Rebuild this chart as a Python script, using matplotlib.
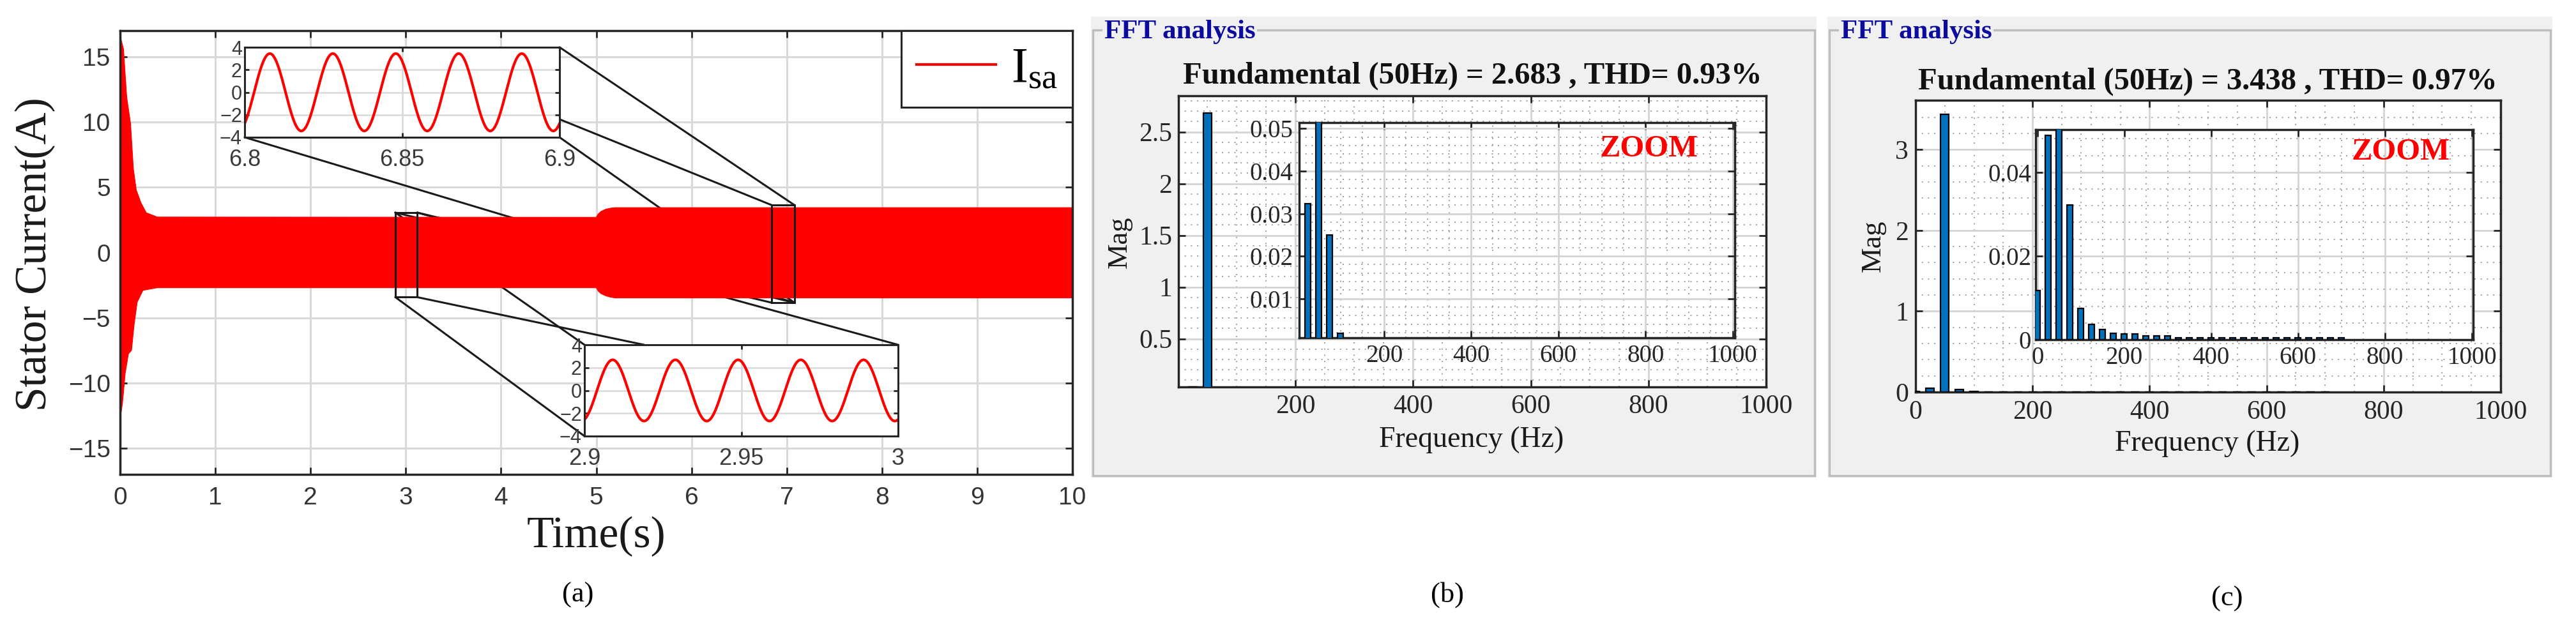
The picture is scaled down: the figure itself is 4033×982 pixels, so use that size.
import numpy as np
import matplotlib
matplotlib.use("Agg")
import matplotlib.pyplot as plt
from matplotlib.patches import Rectangle, ConnectionPatch
from matplotlib.lines import Line2D
from matplotlib.ticker import AutoMinorLocator, FixedLocator

# ------------------------------------------------------------------ data
# panel (a): envelope of the stator current
T_UP = [0.0, 0.004, 0.036, 0.07, 0.11, 0.14, 0.17, 0.22, 0.275, 0.39, 5.0, 5.02, 5.05, 5.1, 5.15, 5.2, 10.0]
I_UP = [17.0, 16.5, 15.6, 11.9, 9.9, 6.4, 4.8, 3.8, 3.05, 2.72, 2.7, 2.95, 3.15, 3.32, 3.4, 3.44, 3.44]
T_LO = [0.0, 0.002, 0.026, 0.054, 0.088, 0.12, 0.148, 0.18, 0.24, 0.39, 5.0, 5.02, 5.05, 5.1, 5.15, 5.2, 10.0]
I_LO = [0.0, -12.7, -11.5, -9.25, -7.76, -7.5, -5.5, -3.8, -2.9, -2.7, -2.7, -2.95, -3.15, -3.32, -3.42, -3.48, -3.48]
F_GRID = 50.0
ZOOM1_T = [6.8, 6.9]
ZOOM1_PEAK = 6.808
ZOOM2_T = [2.9, 3.0]
ZOOM2_PEAK = 2.909
RECT_A = [2.89, 3.12, -3.42, 3.06]   # t0, t1, y0, y1
RECT_B = [6.84, 7.08, -3.84, 3.64]
A_XTICKS = list(range(0, 11))
A_YTICKS = [-15, -10, -5, 0, 5, 10, 15]

# panel (b) / (c): FFT spectra
FUND_B, THD_B = 2.683, 0.93
FUND_C, THD_C = 3.438, 0.97
B_FREQ = [0, 25, 50, 75, 100]
B_MAG = [0.0, 0.0324, FUND_B, 0.025, 0.0018]
C_FREQ = [0, 25, 50, 75, 100, 125, 150, 175, 200, 225, 250, 275, 300, 325, 350, 375,
          400, 425, 450, 475, 500, 525, 550, 575, 600, 625, 650, 675, 700]
C_MAG = [0.0117, 0.0489, FUND_C, 0.0322, 0.0075, 0.0037, 0.0024, 0.0016, 0.0013, 0.0013,
         0.0009, 0.0009, 0.0009, 0.0005, 0.0005, 0.0005, 0.0005, 0.0005, 0.0005, 0.0005,
         0.0005, 0.0005, 0.0005, 0.0005, 0.0005, 0.0005, 0.0005, 0.0005, 0.0005]
FREQ_TICKS = [200, 400, 600, 800, 1000]
FREQ_TICKS0 = [0, 200, 400, 600, 800, 1000]
B_YTICKS = [0.5, 1, 1.5, 2, 2.5]
B_YTL = ["0.5", "1", "1.5", "2", "2.5"]
BI_YTICKS = [0.01, 0.02, 0.03, 0.04, 0.05]
BI_YTL = ["0.01", "0.02", "0.03", "0.04", "0.05"]
C_YTICKS = [0, 1, 2, 3]
C_YTL = ["0", "1", "2", "3"]
CI_YTICKS = [0, 0.02, 0.04]
CI_YTL = ["0", "0.02", "0.04"]

# ------------------------------------------------------------------ style
W, H, DPI = 4033, 982, 100
plt.rcParams["font.family"] = ["Liberation Sans", "DejaVu Sans"]
plt.rcParams["mathtext.fontset"] = "custom"
plt.rcParams["mathtext.rm"] = "Liberation Serif"
plt.rcParams["mathtext.it"] = "Liberation Serif:italic"
SERIF = "Liberation Serif"
DARK = "#262626"
BLUE_BAR = "#0072BD"

fig = plt.figure(figsize=(W / DPI, H / DPI), dpi=DPI)
fig.patch.set_facecolor("white")


def box(l, t, r, b):
    return [l / W, 1 - b / H, (r - l) / W, (b - t) / H]


def fx(px):
    return px / W


def fy(py):
    return 1 - py / H


def style_axes(ax, lw=2.5, tlen=8, twid=2):
    for s in ax.spines.values():
        s.set_color(DARK)
        s.set_linewidth(lw)
    ax.tick_params(which="major", direction="in", length=tlen, width=twid,
                   top=True, right=True, colors=DARK)
    ax.tick_params(which="minor", length=0)


# ================================================================ panel (a)
axa = fig.add_axes(box(188, 48, 1679, 743))
axa.set_axisbelow(True)
axa.fill(np.concatenate([T_UP, T_LO[::-1]]), np.concatenate([I_UP, I_LO[::-1]]),
         color="#FF0000", lw=0.8, ec="#FF0000", zorder=2)
axa.set_xlim(0, 10)
axa.set_ylim(-17, 17)
axa.set_xticks(A_XTICKS)
axa.set_yticks(A_YTICKS)
axa.grid(True, color="#D9D9D9", lw=2.2)
style_axes(axa)
axa.tick_params(axis="both", labelsize=28, labelcolor="#333333")
axa.tick_params(axis="x", pad=14)
axa.tick_params(axis="y", pad=11)

for r in (RECT_A, RECT_B):
    axa.add_patch(Rectangle((r[0], r[2]), r[1] - r[0], r[3] - r[2], fill=False,
                            ec="#1A1A1A", lw=2.2, zorder=4))

leg = axa.legend([Line2D([], [], color="#FF0000", lw=3)], [r"$\mathrm{I}_{\mathrm{sa}}$"],
                 loc="upper right", bbox_to_anchor=(1, 1), borderaxespad=0,
                 fancybox=False, edgecolor=DARK, framealpha=1, fontsize=56,
                 handlelength=1.6, handletextpad=0.3, borderpad=0.3)
leg.get_frame().set_linewidth(2.2)

fig.text(fx(55), fy(398), "Stator Current(A)", family=SERIF, fontsize=50,
         rotation=90, ha="center", va="center", color="#1A1A1A")
fig.text(fx(933), fy(840), "Time(s)", family=SERIF, fontsize=50,
         ha="center", va="center", color="#1A1A1A")

# inset axes
ins1 = fig.add_axes(box(383, 74, 876, 215))
ins2 = fig.add_axes(box(915, 540, 1406, 683))

# connector lines (drawn with the main axes, beneath the insets)
a0, a1, ay0, ay1 = RECT_A
b0, b1, by0, by1 = RECT_B
conns = [
    ((1, 1), ins1, (b1, by1)),
    ((1, 0.2), ins1, (b0, by1)),
    ((1, 0), ins1, (b1, by0)),
    ((0, 0), ins1, (b1, by0)),
    ((0, 1), ins2, (a0, ay1)),
    ((0, 0), ins2, (a0, ay0)),
    ((0.19, 1), ins2, (a1, ay0)),
    ((1, 1), ins2, (a1, ay1)),
]
for xyA, insax, xyB in conns:
    cp = ConnectionPatch(xyA=xyA, coordsA=insax.transAxes, xyB=xyB, coordsB=axa.transData,
                         color="#1A1A1A", lw=2.2)
    axa.add_artist(cp)
for xyA, xyB in [((a0, ay1), (b0, by0)), ((a1, ay1), (b1, by0))]:
    axa.add_artist(ConnectionPatch(xyA=xyA, coordsA=axa.transData, xyB=xyB,
                                   coordsB=axa.transData, color="#1A1A1A", lw=2.2))

for ins, trange, peak, amp, xt, xtl in (
        (ins1, ZOOM1_T, ZOOM1_PEAK, FUND_C, [6.8, 6.85, 6.9], ["6.8", "6.85", "6.9"]),
        (ins2, ZOOM2_T, ZOOM2_PEAK, FUND_B, [2.9, 2.95, 3.0], ["2.9", "2.95", "3"])):
    t = np.linspace(trange[0], trange[1], 800)
    ins.plot(t, amp * np.cos(2 * np.pi * F_GRID * (t - peak)), color="#FF0000", lw=3)
    ins.set_xlim(trange)
    ins.set_ylim(-4, 4)
    ins.set_xticks(xt)
    ins.set_xticklabels(xtl)
    ins.set_yticks([-4, -2, 0, 2, 4])
    ins.set_axisbelow(True)
    ins.grid(True, color="#D9D9D9", lw=1.8)
    style_axes(ins, lw=2.2, tlen=5)
    ins.tick_params(axis="x", labelsize=26, pad=13, labelcolor="#3A3A3A")
    ins.tick_params(axis="y", labelsize=22, pad=3, labelcolor="#3A3A3A")

fig.text(fx(905), fy(932), "(a)", family=SERIF, fontsize=32, ha="center", va="center")


# ================================================================ panels (b), (c)
def fft_panel(gx0, gx1, title, title_xy, main_box, inset_box, freqs, mags,
              m_xlim, m_ylim, m_xt, m_yt, m_ytl, i_xlim, i_ylim, i_xt, i_yt, i_ytl,
              mag_xy, freq_xy, zoom_xy, lab, lab_xy, m_xpad, m_ypad, i_ypad):
    fig.add_artist(Rectangle((fx(gx0 - 3), fy(748)), fx(gx1 - gx0 + 6), (748 - 26) / H,
                             transform=fig.transFigure, fc="#F0F0F0", ec="none", zorder=-2))
    fig.add_artist(Rectangle((fx(gx0), fy(745)), fx(gx1 - gx0), (745 - 47) / H,
                             transform=fig.transFigure, fill=False, ec="#BEBEBE", lw=2.5,
                             zorder=-1))
    fig.text(fx(gx0 + 18), fy(50), "FFT analysis", family=SERIF, fontsize=31,
             fontweight="bold", color="#0B0B9E", ha="left", va="center",
             bbox=dict(fc="#F0F0F0", ec="none", pad=2))
    fig.text(fx(title_xy[0]), fy(title_xy[1]), title, family=SERIF, fontsize=35,
             fontweight="bold", color="#111111", ha="center", va="center")

    ax = fig.add_axes(main_box)
    ins = fig.add_axes(inset_box)
    for a, xlim, ylim, xt, yt, ytl, bw, lsize, xpad, ypad in (
            (ax, m_xlim, m_ylim, m_xt, m_yt, m_ytl, 14, 30, m_xpad, m_ypad),
            (ins, i_xlim, i_ylim, i_xt, i_yt, i_ytl, 13, 28, 7, i_ypad)):
        a.set_axisbelow(True)
        a.bar(freqs, mags, width=bw, color=BLUE_BAR, edgecolor="black", lw=1.6, zorder=3)
        a.set_xlim(xlim)
        a.set_ylim(ylim)
        a.xaxis.set_major_locator(FixedLocator(xt))
        a.set_xticklabels([str(v) for v in xt])
        a.yaxis.set_major_locator(FixedLocator(yt))
        a.set_yticklabels(ytl)
        a.xaxis.set_minor_locator(AutoMinorLocator(4))
        a.yaxis.set_minor_locator(AutoMinorLocator(5))
        a.grid(True, which="major", color="#D4D4D4", lw=2)
        a.grid(True, which="minor", color="#9C9C9C", lw=1.4, ls=(0, (1, 4)))
        style_axes(a, lw=2.5, tlen=8)
        a.tick_params(axis="both", labelsize=lsize, labelcolor=DARK)
        a.tick_params(axis="x", pad=xpad)
        a.tick_params(axis="y", pad=ypad)
        for lbl in a.get_xticklabels() + a.get_yticklabels():
            lbl.set_family(SERIF)
    fig.text(fx(mag_xy[0]), fy(mag_xy[1]), "Mag", family=SERIF, fontsize=32,
             rotation=90, ha="center", va="center", color="#1A1A1A")
    fig.text(fx(freq_xy[0]), fy(freq_xy[1]), "Frequency (Hz)", family=SERIF, fontsize=33,
             ha="center", va="center", color="#1A1A1A")
    fig.text(fx(zoom_xy[0]), fy(zoom_xy[1]), "ZOOM", family=SERIF, fontsize=35,
             fontweight="bold", color="#FF0000", ha="center", va="center", zorder=10)
    fig.text(fx(lab_xy[0]), fy(lab_xy[1]), lab, family=SERIF, fontsize=32,
             ha="center", va="center")


fft_panel(1711, 2841, f"Fundamental (50Hz) = {FUND_B} , THD= {THD_B}%", (2305, 119),
          box(1845, 150, 2765, 606), box(2034, 192, 2716, 529), B_FREQ, B_MAG,
          (1, 1000), (0.035, 2.85), FREQ_TICKS, B_YTICKS, B_YTL,
          (5, 1005), (0.0008, 0.0514), FREQ_TICKS, BI_YTICKS, BI_YTL,
          (1753, 379), (2304, 689), (2582, 233), "(b)", (2266, 932), 8, 7, 7)

fft_panel(2864, 3993, f"Fundamental (50Hz) = {FUND_C} , THD= {THD_C}%", (3456, 128),
          box(2999, 157, 3915, 614), box(3187, 203, 3872, 532), C_FREQ, C_MAG,
          (0, 1000), (0, 3.61), FREQ_TICKS0, C_YTICKS, C_YTL,
          (-4, 1003), (0, 0.0502), FREQ_TICKS0, CI_YTICKS, CI_YTL,
          (2933, 385), (3456, 695), (3759, 238), "(c)", (3487, 938), 9, 8, 5)

fig.savefig("out.png", dpi=DPI, facecolor="white")
